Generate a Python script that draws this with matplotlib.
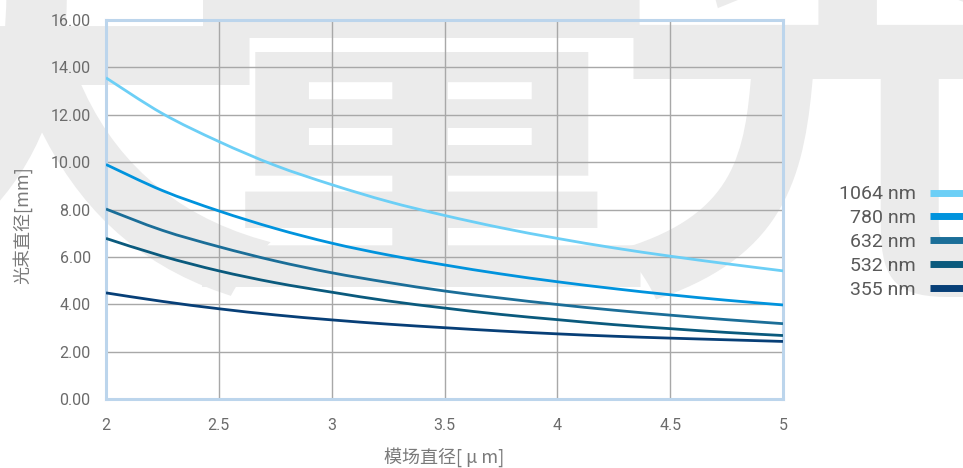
import matplotlib
matplotlib.use("Agg")
import matplotlib.pyplot as plt
from matplotlib.path import Path
from matplotlib.patches import PathPatch
from matplotlib.lines import Line2D
import numpy as np

# Mode field diameter [µm] versus resulting beam diameter [mm]
mfd = [2.0, 2.25, 2.5, 2.75, 3.0, 3.25, 3.5, 3.75, 4.0, 4.25, 4.5, 4.75, 5.0]
beam_1064 = [13.56, 12.05, 10.87, 9.86, 9.05, 8.34, 7.75, 7.23, 6.78, 6.38, 6.03, 5.71, 5.41]
beam_780 = [9.90, 8.80, 7.94, 7.20, 6.58, 6.08, 5.66, 5.28, 4.95, 4.66, 4.40, 4.17, 3.97]
beam_632 = [8.02, 7.12, 6.43, 5.83, 5.33, 4.92, 4.56, 4.26, 3.99, 3.75, 3.54, 3.35, 3.18]
beam_532 = [6.78, 6.03, 5.41, 4.91, 4.51, 4.14, 3.84, 3.57, 3.35, 3.14, 2.97, 2.81, 2.68]
beam_355 = [4.48, 4.12, 3.81, 3.55, 3.34, 3.16, 3.01, 2.87, 2.75, 2.65, 2.57, 2.50, 2.43]

series_labels = ["1064 nm", "780 nm", "632 nm", "532 nm", "355 nm"]
series_values = [beam_1064, beam_780, beam_632, beam_532, beam_355]
series_colors = ["#6ccff6", "#0093dd", "#1b6e98", "#0a5a7d", "#073f77"]

x_ticks = [2, 2.5, 3, 3.5, 4, 4.5, 5]
x_tick_labels = ["2", "2.5", "3", "3.5", "4", "4.5", "5"]
y_ticks = [0, 2, 4, 6, 8, 10, 12, 14, 16]
y_tick_labels = ["0.00", "2.00", "4.00", "6.00", "8.00", "10.00", "12.00", "14.00", "16.00"]

watermark_chars = ["天", "量", "光"]

NUM_FONT = ["Roboto", "DejaVu Sans"]
CJK_FONT = ["Noto Sans CJK SC", "DejaVu Sans"]


def smooth_path(xs, ys):
    """Cubic Bezier path through the points (Catmull-Rom style tangents)."""
    xs = np.asarray(xs, float)
    ys = np.asarray(ys, float)
    n = len(xs)
    verts = [(xs[0], ys[0])]
    codes = [Path.MOVETO]
    for i in range(n - 1):
        p0 = np.array([xs[max(i - 1, 0)], ys[max(i - 1, 0)]])
        p1 = np.array([xs[i], ys[i]])
        p2 = np.array([xs[i + 1], ys[i + 1]])
        p3 = np.array([xs[min(i + 2, n - 1)], ys[min(i + 2, n - 1)]])
        c1 = p1 + (p2 - p0) / 6.0
        c2 = p2 - (p3 - p1) / 6.0
        verts += [tuple(c1), tuple(c2), tuple(p2)]
        codes += [Path.CURVE4, Path.CURVE4, Path.CURVE4]
    return Path(verts, codes)


W, H = 963, 468
fig = plt.figure(figsize=(W / 100, H / 100), dpi=100)
fig.patch.set_facecolor("white")

# large light watermark behind the plot, partly running off the top edge
for ch, cx in zip(watermark_chars, [40, 420, 850]):
    fig.text(cx / W, 1 - 256 / H, ch, fontsize=345, color="#ebebeb",
             family=CJK_FONT, weight="bold", ha="center", va="baseline",
             zorder=0)

ax = fig.add_axes([106 / W, 1 - 399 / H, (783 - 106) / W, (399 - 20) / H])
ax.patch.set_alpha(0)
ax.set_zorder(1)

for vals, col in zip(series_values, series_colors):
    patch = PathPatch(smooth_path(mfd, vals), fill=False, edgecolor=col,
                      linewidth=2.0, capstyle="butt", zorder=3)
    ax.add_patch(patch)

ax.set_xlim(2, 5)
ax.set_ylim(0, 16)
ax.set_xticks(x_ticks)
ax.set_xticklabels(x_tick_labels)
ax.set_yticks(y_ticks)
ax.set_yticklabels(y_tick_labels)
ax.tick_params(length=0, labelsize=11.5, labelcolor="#6b6b6b")
ax.tick_params(axis="y", pad=11)
ax.tick_params(axis="x", pad=14)
for lbl in ax.get_xticklabels() + ax.get_yticklabels():
    lbl.set_family(NUM_FONT)

ax.grid(True, color="#a8a8a8", linewidth=1.0)
ax.set_axisbelow(True)
for sp in ax.spines.values():
    sp.set_color("#bcd5ec")
    sp.set_linewidth(2.2)

ax.set_xlabel("模场直径[ μ m]", fontsize=13, color="#7a7a7a", family=CJK_FONT)
ax.xaxis.label.set_va("center")
ax.xaxis.set_label_coords(0.5, -(457 - 399) / (399 - 20))
ax.set_ylabel("光束直径[mm]", fontsize=13, color="#7a7a7a", family=CJK_FONT)
ax.yaxis.label.set_va("center")
ax.yaxis.set_label_coords(-(106 - 22) / (783 - 106), (399 - 225) / (399 - 20))

handles = [Line2D([], [], color=c, linewidth=5, solid_capstyle="butt")
           for c in series_colors]
leg = fig.legend(handles, series_labels, loc="center left",
                 bbox_to_anchor=(821 / W, 1 - 242 / H), frameon=False,
                 markerfirst=False, handlelength=2.0, handletextpad=0.72,
                 labelspacing=0.3, labelcolor="#595959",
                 prop={"family": NUM_FONT, "size": 14})
for t in leg.get_texts():
    t.set_ha("right")

fig.savefig("out.png", dpi=100)
